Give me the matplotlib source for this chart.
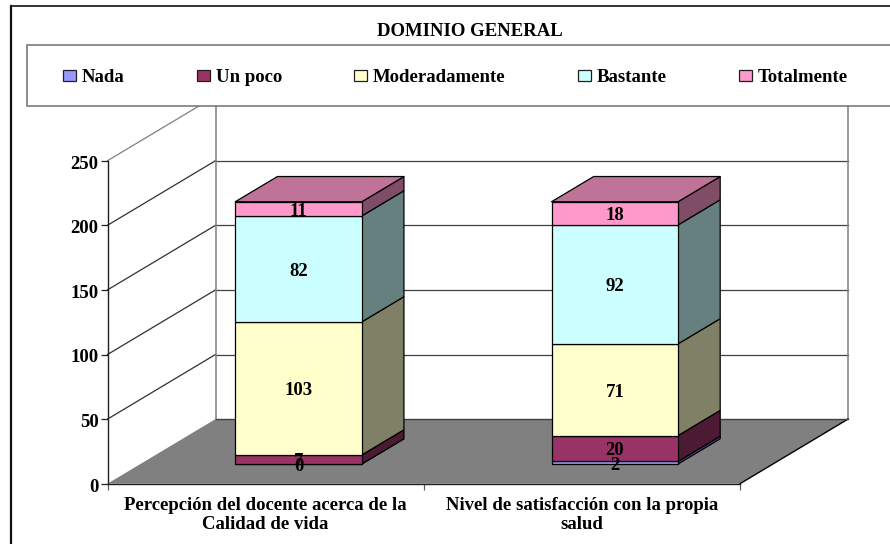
import matplotlib
matplotlib.use("Agg")
import matplotlib.pyplot as plt
from matplotlib.colors import to_rgb
from matplotlib.lines import Line2D
from matplotlib.patches import Patch, Polygon, Rectangle
from matplotlib.transforms import ScaledTranslation

plt.rcParams['font.family'] = ['Liberation Serif', 'DejaVu Serif']
plt.rcParams['font.weight'] = 'bold'

TITLE = "DOMINIO GENERAL"
CATEGORIES = ["Percepción del docente acerca de la\nCalidad de vida",
              "Nivel de satisfacción con la propia\nsalud"]
SERIES = ["Nada", "Un poco", "Moderadamente", "Bastante", "Totalmente"]
NADA = [0, 2]
UN_POCO = [7, 20]
MODERADAMENTE = [103, 71]
BASTANTE = [82, 92]
TOTALMENTE = [11, 18]
Y_TICKS = [0, 50, 100, 150, 200, 250]
COLORS = ["#9999FF", "#993366", "#FFFFCC", "#CCFFFF", "#FF99CC"]
TOP_COLOR = "#BF7399"
VALUES = [NADA, UN_POCO, MODERADAMENTE, BASTANTE, TOTALMENTE]

W, H = 890, 544
FS = 13.5
fig = plt.figure(figsize=(W / 100, H / 100), dpi=100, facecolor="white")
ax = fig.add_axes([107.5 / W, (H - 483.7) / H, (740 - 107.5) / W, (483.7 - 160.7) / H])
ax.set_xlim(0, 2)
ax.set_ylim(0, 250)
ax.patch.set_alpha(0)

DX, DY = 108 / 316.25, 50      # shift of the oblique projection over the full depth
BAR_W = 0.4
Z0, Z1 = 0.305, 0.695


def pr(x, y, z=0.0):
    return (x + z * DX, y + z * DY)


def poly(points, fc, ec="black", lw=0.9, z=3):
    ax.add_patch(Polygon(points, closed=True, fc=fc, ec=ec, lw=lw, zorder=z,
                         clip_on=False, joinstyle="round"))


def shade(c, f):
    return tuple(v * f for v in to_rgb(c))


# floor
poly([pr(0, 0), pr(2, 0), pr(2, 0, 1), pr(0, 0, 1)], "#808080", ec="none", lw=0, z=1)
ax.plot(*zip(pr(2, 0), pr(2, 0, 1)), color="black", lw=1, zorder=1.5, clip_on=False)
ax.plot(*zip(pr(0, 0, 1), pr(2, 0, 1)), color="#404040", lw=1, zorder=1.5, clip_on=False)

# walls and grid
for v in Y_TICKS[1:]:
    col = "#808080" if v == 250 else "#303030"
    ax.plot(*zip(pr(0, v), pr(0, v, 1)), color=col, lw=0.9, zorder=1, clip_on=False)
    ax.plot(*zip(pr(0, v, 1), pr(2, v, 1)), color="#404040", lw=0.9, zorder=1, clip_on=False)
for x in (0, 2):
    ax.plot(*zip(pr(x, 0, 1), pr(x, 250, 1)), color="#808080", lw=1.1, zorder=1, clip_on=False)

# stacked bars
for i in range(len(CATEGORIES)):
    c = i + 0.5
    x0, x1 = c - BAR_W / 2, c + BAR_W / 2
    base = 0
    for vals, col in zip(VALUES, COLORS):
        v = vals[i]
        top = base + v
        poly([pr(x1, base, Z0), pr(x1, base, Z1), pr(x1, top, Z1), pr(x1, top, Z0)], shade(col, 0.5))
        poly([pr(x0, base, Z0), pr(x1, base, Z0), pr(x1, top, Z0), pr(x0, top, Z0)], col)
        base = top
    poly([pr(x0, base, Z0), pr(x1, base, Z0), pr(x1, base, Z1), pr(x0, base, Z1)], TOP_COLOR)
    base = 0
    for vals in VALUES:
        v = vals[i]
        xt, yt = pr(c, base + v / 2, Z0)
        ax.text(xt, yt - 1.8, str(v), ha="center", va="center", fontsize=FS, color="black",
                zorder=6, clip_on=False)
        base += v

# axes
for s in ("top", "right"):
    ax.spines[s].set_visible(False)
for s in ("left", "bottom"):
    ax.spines[s].set_linewidth(1.0)
    ax.spines[s].set_zorder(2)
    ax.spines[s].set_color("#202020")
ax.set_yticks(Y_TICKS)
ax.tick_params(axis="y", length=5, width=0.9, pad=1.5, labelsize=FS, color="#202020")
for lbl in ax.get_yticklabels():
    lbl.set_transform(lbl.get_transform() + ScaledTranslation(0, -1.5 / 100, fig.dpi_scale_trans))
ax.set_xticks([0, 1, 2])
ax.set_xticklabels([])
ax.tick_params(axis="x", which="major", length=4.5, width=0.9, color="#606060")
ax.set_xticks([0.5, 1.5], minor=True)
ax.set_xticklabels(CATEGORIES, minor=True, fontsize=FS, linespacing=1.2)
ax.tick_params(axis="x", which="minor", length=0, pad=9.5)

# legend band, title, outer frame
ax.add_patch(Rectangle((27 / W, 1 - 106 / H), 2, 61 / H, transform=fig.transFigure,
                       fc="white", ec="#707070", lw=1.1, zorder=8, clip_on=False))
handles = [Patch(fc=c, ec="#202020", lw=0.9) for c in COLORS]
leg = ax.legend(handles, SERIES, ncol=5, frameon=False, fontsize=FS,
                loc="center left", bbox_to_anchor=(63 / W, 1 - 77.5 / H),
                bbox_transform=fig.transFigure, borderpad=0, borderaxespad=0,
                handlelength=0.69, handleheight=0.53, handletextpad=0.32, columnspacing=3.85)
leg.set_zorder(9)
fig.text(470 / W, 1 - 31.5 / H, TITLE, ha="center", va="center", fontsize=FS, color="black")
fig.add_artist(Line2D([10.5 / W, 10.5 / W], [0, 1 - 5.5 / H], color="#101010", lw=1.6))
fig.add_artist(Line2D([10.5 / W, 1], [1 - 5.5 / H, 1 - 5.5 / H], color="#101010", lw=1.2))

fig.savefig("out.png", dpi=100)
